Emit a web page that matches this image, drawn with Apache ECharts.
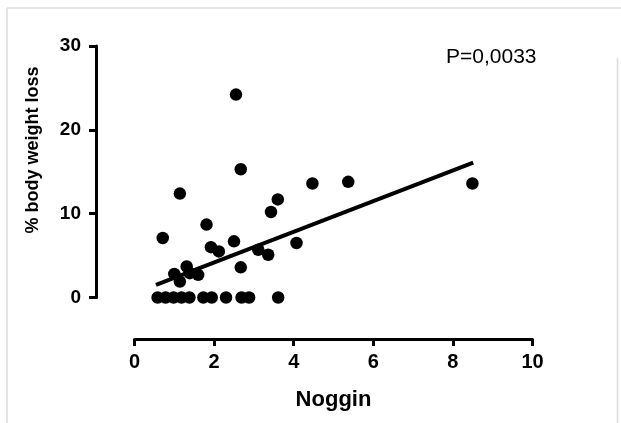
<!DOCTYPE html>
<html>
<head>
<meta charset="utf-8">
<script src="https://cdn.jsdelivr.net/npm/echarts@6/dist/echarts.min.js"></script>
<style>html,body{margin:0;padding:0;background:#fff;}#c{width:621px;height:423px;}</style>
</head>
<body>
<div id="c"></div>
<script>
// Noggin (x) values
const noggin = [0.58, 0.78, 0.98, 1.18, 1.38, 1.73, 1.94, 2.30, 2.69, 2.88, 3.61,
  2.55, 2.67, 1.14, 3.60, 3.43, 4.47, 5.37, 8.49, 1.81, 0.71, 2.50, 1.92, 2.12,
  4.07, 3.11, 3.36, 2.67, 1.00, 1.31, 1.39, 1.60, 1.14];
// % body weight loss (y) values
const weightLoss = [0, 0, 0, 0, 0, 0, 0, 0, 0, 0, 0,
  24.2, 15.3, 12.4, 11.7, 10.2, 13.6, 13.8, 13.6, 8.7, 7.1, 6.7, 6.0, 5.5,
  6.5, 5.7, 5.1, 3.6, 2.8, 3.7, 2.9, 2.7, 1.9];
// regression line end points
const fitX = [0.54, 8.51];
const fitY = [1.5, 16.1];
const xTicks = [0, 2, 4, 6, 8, 10];
const yTicks = [0, 10, 20, 30];
const pText = 'P=0,0033';
const xTitle = 'Noggin';
const yTitle = '% body weight loss';

const points = noggin.map((x, i) => [x, weightLoss[i]]);
const fitLine = fitX.map((x, i) => [x, fitY[i]]);
const FONT = 'Liberation Sans';

const chart = echarts.init(document.getElementById('c'), null, {renderer: 'canvas'});
chart.setOption({
  animation: false,
  backgroundColor: '#fff',
  title: {
    text: pText, left: 446, top: 47, padding: 0,
    textStyle: {fontSize: 21, fontWeight: 'normal', fontFamily: FONT, color: '#000'}
  },
  grid: {left: 134.5, right: 88.5, top: 46, bottom: 125.5},
  xAxis: {
    type: 'value', min: xTicks[0], max: xTicks[xTicks.length - 1], interval: 2,
    offset: 41.5,
    name: xTitle, nameLocation: 'middle', nameGap: 50,
    nameTextStyle: {fontSize: 22, fontWeight: 'bold', fontFamily: FONT, color: '#000'},
    axisLine: {onZero: false, lineStyle: {color: '#000', width: 3}},
    axisTick: {length: 7, lineStyle: {color: '#000', width: 3}},
    axisLabel: {margin: 13, fontSize: 20, fontWeight: 'bold', fontFamily: FONT, color: '#000'},
    splitLine: {show: false}
  },
  yAxis: {
    type: 'value', min: yTicks[0], max: yTicks[yTicks.length - 1], interval: 10,
    offset: 38.5,
    name: yTitle, nameLocation: 'middle', nameGap: 54, nameRotate: 90,
    nameTextStyle: {fontSize: 18, fontWeight: 'bold', fontFamily: FONT, color: '#000', padding: [0, 0, 0, 43.5]},
    axisLine: {onZero: false, lineStyle: {color: '#000', width: 3}},
    axisTick: {length: 7, lineStyle: {color: '#000', width: 3}},
    axisLabel: {margin: 15, fontSize: 19, fontWeight: 'bold', fontFamily: FONT, color: '#000'},
    splitLine: {show: false}
  },
  series: [
    {
      type: 'scatter', data: points, symbol: 'circle', symbolSize: 12.5,
      itemStyle: {color: '#000', opacity: 1}, z: 2
    },
    {
      type: 'line', data: fitLine, showSymbol: false, symbol: 'none',
      lineStyle: {color: '#000', width: 4}, z: 3, silent: true
    }
  ],
  graphic: [
    {type: 'line', shape: {x1: 7, y1: 8, x2: 621, y2: 8}, style: {stroke: '#dcdcdc', lineWidth: 1.5}},
    {type: 'line', shape: {x1: 7, y1: 8, x2: 7, y2: 423}, style: {stroke: '#dcdcdc', lineWidth: 1.5}},
    {type: 'line', shape: {x1: 617.5, y1: 58, x2: 617.5, y2: 423}, style: {stroke: '#dcdcdc', lineWidth: 1.5}}
  ]
});
</script>
</body>
</html>
